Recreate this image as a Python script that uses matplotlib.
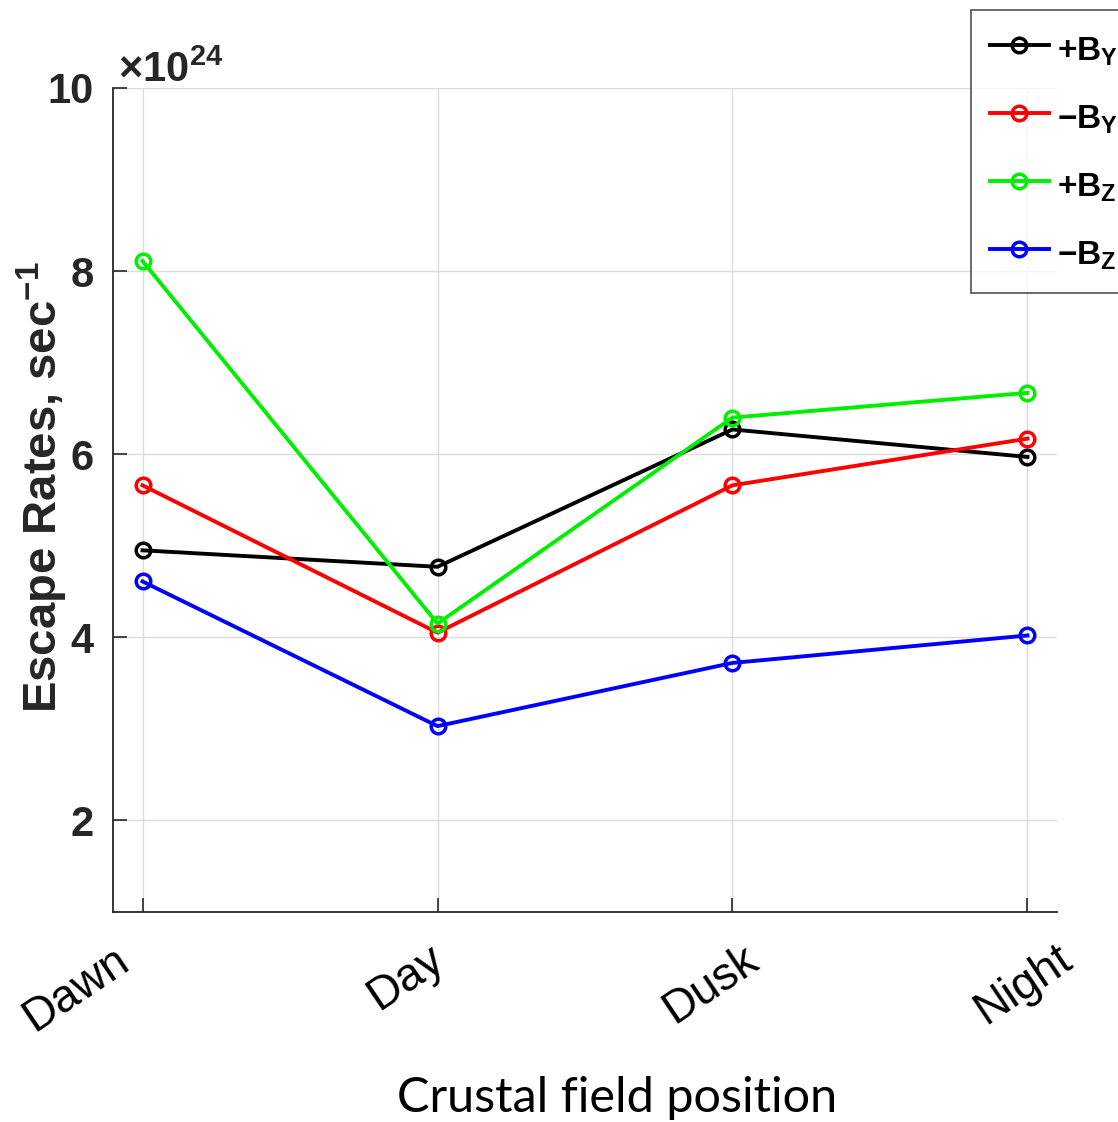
import numpy as np
import matplotlib.pyplot as plt
from matplotlib.transforms import ScaledTranslation

plt.rcParams['mathtext.fontset'] = 'custom'
plt.rcParams['mathtext.rm'] = 'Liberation Sans:bold'
plt.rcParams['mathtext.it'] = 'Liberation Sans:bold'
plt.rcParams['mathtext.bf'] = 'Liberation Sans:bold'

positions = ['Dawn', 'Day', 'Dusk', 'Night']
# escape rates in units of 1e24 per second
plus_by = [4.95, 4.77, 6.27, 5.97]
minus_by = [5.66, 4.05, 5.66, 6.17]
plus_bz = [8.11, 4.15, 6.40, 6.67]
minus_bz = [4.61, 3.03, 3.72, 4.02]
labels = ['$+B_Y$', '$-B_Y$', '$+B_Z$', '$-B_Z$']
colors = ['black', 'red', '#00ee00', 'blue']
yticks = [2, 4, 6, 8, 10]

dark = '#262626'
fig = plt.figure(figsize=(11.18, 11.22), dpi=100)
ax = fig.add_axes([0.1011, 0.1872, 0.8443, 0.7344])

x = np.arange(1, len(positions) + 1)
for vals, lab, c in zip([plus_by, minus_by, plus_bz, minus_bz], labels, colors):
    ax.plot(x, vals, color=c, lw=2.8, marker='o', ms=10.5, mfc='none',
            mec=c, mew=2.5, label=lab)

ax.set_xlim(0.9, 4.1)
ax.set_ylim(1, 10)
ax.set_xticks(x)
ax.set_xticklabels([])
# rotated category names below the axis, nudged in pixels
shifts = [(-66, -4), (-32, 7), (-22, 0), (-4, 0)]
for xi, name, (dx, dy) in zip(x, positions, shifts):
    off = ScaledTranslation(dx / 100, (dy - 73) / 100, fig.dpi_scale_trans)
    ax.text(xi, 0, name, transform=ax.get_xaxis_transform() + off,
            rotation=34, rotation_mode='anchor', ha='center', va='center',
            fontsize=33, family='Liberation Sans', color='black')
ax.set_yticks(yticks)
ax.set_yticklabels([str(t) for t in yticks], fontsize=30,
                   family='Liberation Sans', fontweight='bold', color=dark)
ax.tick_params(direction='in', length=10, width=1.2, color=dark)
ax.tick_params(axis='y', pad=14)
ax.grid(True, color='#dcdcdc', lw=1)
ax.set_axisbelow(True)
for side in ['top', 'right']:
    ax.spines[side].set_visible(False)
for side in ['left', 'bottom']:
    ax.spines[side].set_color(dark)
    ax.spines[side].set_linewidth(1.3)

ax.set_ylabel('Escape Rates, sec$^{-1}$', fontsize=34,
              family='Liberation Sans', fontweight='bold', color=dark)
ax.yaxis.set_label_coords(-0.046, 0.516)

fig.text(0.552, 0.009, 'Crustal field position', fontsize=35, family='Lato',
         color='black', ha='center', va='baseline')

ax.text(0.005, 1.007, r'$\times 10^{24}$', transform=ax.transAxes,
        fontsize=30, color=dark, ha='left', va='baseline')

leg = fig.legend(loc='upper left', bbox_to_anchor=(0.8685, 0.991),
                 fontsize=24, frameon=True, fancybox=False,
                 edgecolor=dark, handlelength=1.75, handleheight=1.5,
                 handletextpad=0.25, labelspacing=0.82, borderpad=0.58,
                 borderaxespad=0)
leg.get_frame().set_linewidth(1.2)

fig.savefig('out.png', dpi=100)
